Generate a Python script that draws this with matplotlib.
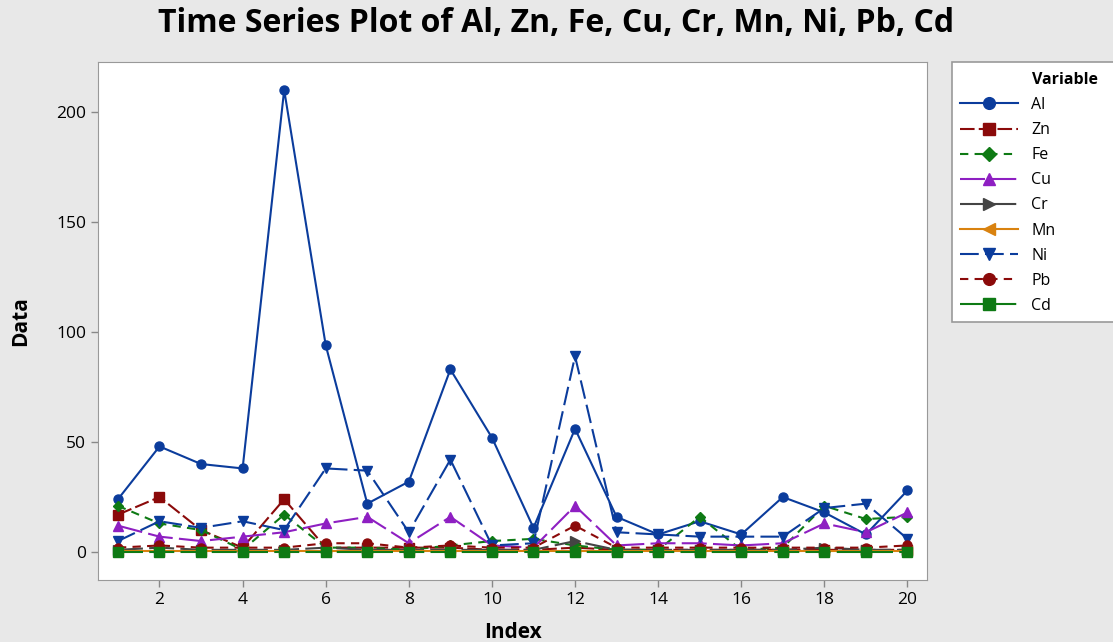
import matplotlib
matplotlib.use("Agg")
import matplotlib.pyplot as plt
from matplotlib.patches import Rectangle

index = list(range(1, 21))
Al = [24, 48, 40, 38, 210, 94, 22, 32, 83, 52, 11, 56, 16, 8, 14, 8, 25, 18, 8, 28]
Zn = [17, 25, 10, 2, 24, 2, 2, 2, 2, 1, 1, 2, 1, 1, 1, 1, 1, 1, 1, 1]
Fe = [21, 13, 10, 1, 17, 2, 2, 1, 3, 5, 6, 3, 1, 1, 16, 1, 2, 21, 15, 16]
Cu = [12, 7, 5, 7, 9, 13, 16, 4, 16, 3, 2, 21, 3, 4, 4, 3, 4, 13, 9, 18]
Cr = [1, 2, 1, 1, 1, 2, 1, 1, 1, 1, 1, 5, 1, 1, 1, 1, 1, 2, 1, 1]
Mn = [0.5, 0.5, 0.5, 0.5, 0.5, 0.5, 0.5, 0.5, 0.5, 0.5, 0.5, 0.5, 0.5, 0.5, 0.5, 0.5, 0.5, 0.5, 0.5, 0.5]
Ni = [5, 14, 11, 14, 10, 38, 37, 9, 42, 3, 4, 89, 9, 8, 7, 7, 7, 20, 22, 6]
Pb = [2, 3, 2, 2, 2, 4, 4, 2, 3, 2, 2, 12, 2, 2, 2, 2, 2, 2, 2, 3]
Cd = [0, 0, 0, 0, 0, 0, 0, 0, 0, 0, 0, 0, 0, 0, 0, 0, 0, 0, 0, 0]

names = ["Al", "Zn", "Fe", "Cu", "Cr", "Mn", "Ni", "Pb", "Cd"]
series = [Al, Zn, Fe, Cu, Cr, Mn, Ni, Pb, Cd]
colors = ["#0B3C9C", "#8B0A0A", "#0E7A14", "#8E1FC2", "#444444", "#D9820F", "#0B3C9C", "#8B0A0A", "#0E7A14"]
markers = ["o", "s", "D", "^", ">", "<", "v", "o", "s"]
styles = ["-", (0, (7, 2)), (0, (4, 3)), (0, (12, 3)), (0, (12, 3)), "-", (0, (9, 3)), (0, (4, 3)), (0, (12, 3))]

plt.rcParams['font.family'] = ['Open Sans', 'DejaVu Sans']
W, H = 1113, 642
fig = plt.figure(figsize=(W/100, H/100), dpi=100, facecolor="#E8E8E8")
ax = fig.add_axes([98/W, 1-580/H, (927-98)/W, (580-62)/H])
ax.set_facecolor("white")

handles = []
for name, vals, c, m, ls in zip(names, series, colors, markers, styles):
    ms = 6.5 if m != "D" else 5.5
    h, = ax.plot(index, vals, color=c, marker=m, linestyle=ls, linewidth=1.5,
                 markersize=ms, label=name)
    handles.append(h)

ax.set_xlim(0.52, 20.47)
ax.set_ylim(-12.7, 222.7)
ax.set_xticks(range(2, 21, 2))
ax.set_yticks([0, 50, 100, 150, 200])
ax.tick_params(axis="both", direction="out", length=5, color="#888888", labelsize=12.5, width=1)
for s in ax.spines.values():
    s.set_color("#999999")
ax.set_xlabel("Index", fontsize=15, fontweight="bold", labelpad=10)
ax.set_ylabel("Data", fontsize=15, fontweight="bold", labelpad=18)
fig.text(0.5, 1-23/H, "Time Series Plot of Al, Zn, Fe, Cu, Cr, Mn, Ni, Pb, Cd",
         ha="center", va="center", fontsize=23, fontweight="bold")

# legend box (extends past right edge, as in reference)
fig.patches.append(Rectangle((952/W, 1-322/H), (1130-952)/W, (322-62)/H,
                             transform=fig.transFigure, facecolor="white",
                             edgecolor="#999999", linewidth=1.2, zorder=1))
fig.text(1032/W, 1-80/H, "Variable", ha="left", va="center", fontsize=11.5, fontweight="bold")
leg = fig.legend(handles=handles, loc="upper left", bbox_to_anchor=(960/W, 1-97/H),
                 fontsize=11.5, frameon=False, handlelength=3.6, handletextpad=0.85,
                 labelspacing=0.57, borderpad=0.0, markerscale=1.3, borderaxespad=0)
leg.set_zorder(3)

fig.savefig("out.png", dpi=100, facecolor=fig.get_facecolor())
